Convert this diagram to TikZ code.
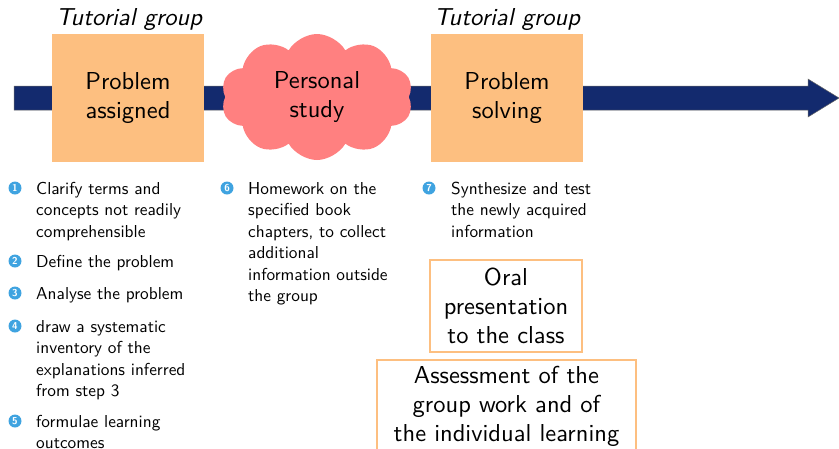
\documentclass[tikz,border=0pt]{standalone}
\usepackage{fontspec}
\setsansfont{lmsans10-regular.otf}[ItalicFont=lmsans10-oblique.otf, BoldFont=lmsans10-bold.otf]
\usetikzlibrary{shapes.symbols}
\renewcommand{\familydefault}{\sfdefault}
\hyphenpenalty=10000
\exhyphenpenalty=10000
\definecolor{navy}{HTML}{132A6E}
\definecolor{peach}{HTML}{FDBF80}
\definecolor{salmon}{HTML}{FF8080}
\definecolor{ballblue}{HTML}{3FA3E0}
\tikzset{
  pbox/.style={fill=peach, minimum width=152, minimum height=128, align=center, inner sep=0, font=\sffamily\fontsize{24.5}{28.5}\selectfont},
  obox/.style={draw=peach, line width=2pt, align=center, inner sep=0, font=\sffamily\fontsize{24.5}{29}\selectfont},
  ttl/.style={anchor=base, inner sep=0, font=\sffamily\fontsize{24.5}{28}\selectfont\itshape},
  ball/.style={circle, fill=ballblue, text=white, inner sep=0, minimum size=13, font=\sffamily\fontsize{10}{10}\selectfont\bfseries},
  itm/.style={anchor=base west, inner sep=0, text width=190, align=left, font=\sffamily\fontsize{17.3}{21.5}\selectfont},
}
\begin{document}
\begin{tikzpicture}[x=1pt,y=-1pt,font=\sffamily]
\useasboundingbox (0,0) rectangle (839,448);
% timeline arrow
\fill[navy, draw=black!60, line width=0.5pt] (14,86) -- (808,86) -- (808,79) -- (839,98) -- (808,117) -- (808,110) -- (14,110) -- cycle;
% boxes
\node[pbox] (pa) at (128,98) {Problem\\assigned};
\node[cloud, cloud puffs=10, cloud puff arc=120, aspect=1.6, fill=salmon, minimum width=192, minimum height=126, inner sep=0, align=center, font=\sffamily\fontsize{24.5}{28.5}\selectfont] (ps) at (317,97) {Personal\\study};
\node[pbox] (sv) at (507,98) {Problem\\solving};
\node[ttl] (t1) at (129,25) {Tutorial group};
\node[ttl] (t2) at (507,25) {Tutorial group};
% bullets
\node[ball] (b1) at (15,188) {1};
\node[ball] (b2) at (15,261) {2};
\node[ball] (b3) at (15,293) {3};
\node[ball] (b4) at (15,326) {4};
\node[ball] (b5) at (15,421) {5};
\node[ball] (b6) at (227,188) {6};
\node[ball] (b7) at (429,188) {7};
% items
\node[itm] (i1) at (36,194) {Clarify terms and\\concepts not readily\\comprehensible};
\node[itm] (i2) at (36,267) {Define the problem};
\node[itm] (i3) at (36,299) {Analyse the problem};
\node[itm] (i4) at (36,332) {draw a systematic\\inventory of the\\explanations inferred\\from step 3};
\node[itm] (i5) at (36,427) {formulae learning\\outcomes};
\node[itm] (i6) at (248,194) {Homework on the\\specified book\\chapters, to collect\\additional\\information outside\\the group};
\node[itm] (i7) at (451,194) {Synthesize and test\\the newly acquired\\information};
% outcome boxes
\node[obox, minimum width=152, minimum height=92] (op) at (506,306) {Oral\\presentation\\to the class};
\node[obox, minimum width=259, minimum height=92, anchor=north] (as) at (506.5,359) {Assessment of the\\group work and of\\the individual learning};
\end{tikzpicture}
\end{document}
